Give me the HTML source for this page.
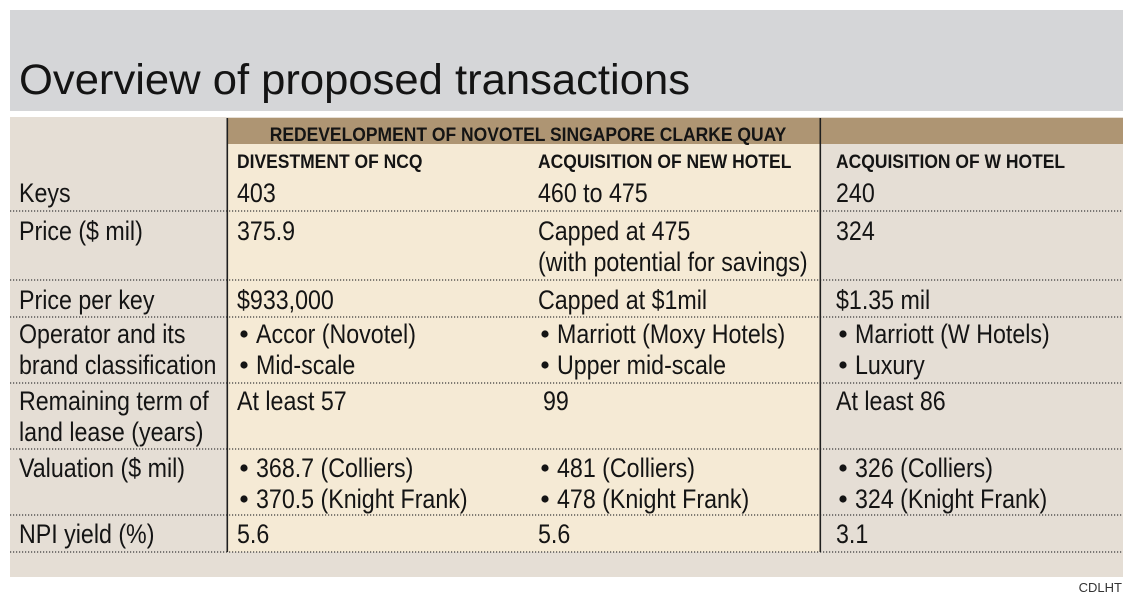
<!DOCTYPE html>
<html><head><meta charset="utf-8"><style>
html,body{margin:0;padding:0;background:#fff;}
svg{display:block;}
text{font-family:"Liberation Sans",sans-serif;fill:#141414;}
.b{font-size:27px;}
.h{font-size:19px;font-weight:bold;}
</style></head><body>
<svg width="1136" height="606" viewBox="0 0 1136 606" xmlns="http://www.w3.org/2000/svg">
<rect x="0" y="0" width="1136" height="606" fill="#fff"/>
<rect x="10" y="10" width="1113" height="101" fill="#d5d6d8"/>
<text x="19" y="94" style="font-size:43px" textLength="671" lengthAdjust="spacingAndGlyphs">Overview of proposed transactions</text>

<rect x="10" y="117" width="1113" height="460" fill="#e5ded5"/>
<rect x="227" y="118" width="593" height="434" fill="#f5ead5"/>
<rect x="227" y="118" width="896" height="26" fill="#ae9573"/>

<g stroke="#3a3a3a" stroke-width="1.2" stroke-dasharray="1.2 1.8">
<line x1="10" y1="211" x2="1123" y2="211"/>
<line x1="10" y1="280" x2="1123" y2="280"/>
<line x1="10" y1="317" x2="1123" y2="317"/>
<line x1="10" y1="383" x2="1123" y2="383"/>
<line x1="10" y1="449" x2="1123" y2="449"/>
<line x1="10" y1="515" x2="1123" y2="515"/>
<line x1="10" y1="552" x2="1123" y2="552"/>
</g>
<rect x="226.5" y="118" width="1.6" height="434" fill="#1e1e1e"/>
<rect x="819.5" y="118" width="1.6" height="434" fill="#1e1e1e"/>

<text class="h" transform="translate(528 141) scale(0.92 1)" text-anchor="middle">REDEVELOPMENT OF NOVOTEL SINGAPORE CLARKE QUAY</text>
<text class="h" transform="translate(237 168) scale(0.92 1)">DIVESTMENT OF NCQ</text>
<text class="h" transform="translate(538 168) scale(0.92 1)">ACQUISITION OF NEW HOTEL</text>
<text class="h" transform="translate(836 168) scale(0.92 1)">ACQUISITION OF W HOTEL</text>

<!-- Keys -->
<text class="b" transform="translate(19 202) scale(0.86 1)">Keys</text>
<text class="b" transform="translate(237 202) scale(0.86 1)">403</text>
<text class="b" transform="translate(538 202) scale(0.86 1)">460 to 475</text>
<text class="b" transform="translate(836 202) scale(0.86 1)">240</text>

<!-- Price -->
<text class="b" transform="translate(19 240) scale(0.86 1)">Price ($ mil)</text>
<text class="b" transform="translate(237 240) scale(0.86 1)">375.9</text>
<text class="b" transform="translate(538 240) scale(0.86 1)">Capped at 475</text>
<text class="b" transform="translate(538 271) scale(0.86 1)">(with potential for savings)</text>
<text class="b" transform="translate(836 240) scale(0.86 1)">324</text>

<!-- Price per key -->
<text class="b" transform="translate(19 309) scale(0.86 1)">Price per key</text>
<text class="b" transform="translate(237 309) scale(0.86 1)">$933,000</text>
<text class="b" transform="translate(538 309) scale(0.86 1)">Capped at $1mil</text>
<text class="b" transform="translate(836 309) scale(0.86 1)">$1.35 mil</text>

<!-- bullets -->
<g fill="#141414">
<circle cx="244" cy="334" r="3.6"/><circle cx="244" cy="365" r="3.6"/>
<circle cx="545" cy="334" r="3.6"/><circle cx="545" cy="365" r="3.6"/>
<circle cx="843" cy="334" r="3.6"/><circle cx="843" cy="365" r="3.6"/>
<circle cx="244" cy="468" r="3.6"/><circle cx="244" cy="499" r="3.6"/>
<circle cx="545" cy="468" r="3.6"/><circle cx="545" cy="499" r="3.6"/>
<circle cx="843" cy="468" r="3.6"/><circle cx="843" cy="499" r="3.6"/>
</g>

<!-- Operator -->
<text class="b" transform="translate(19 343) scale(0.86 1)">Operator and its</text>
<text class="b" transform="translate(19 374) scale(0.86 1)">brand classification</text>
<text class="b" transform="translate(256 343) scale(0.86 1)">Accor (Novotel)</text>
<text class="b" transform="translate(256 374) scale(0.86 1)">Mid-scale</text>
<text class="b" transform="translate(557 343) scale(0.86 1)">Marriott (Moxy Hotels)</text>
<text class="b" transform="translate(557 374) scale(0.86 1)">Upper mid-scale</text>
<text class="b" transform="translate(855 343) scale(0.86 1)">Marriott (W Hotels)</text>
<text class="b" transform="translate(855 374) scale(0.86 1)">Luxury</text>

<!-- Remaining -->
<text class="b" transform="translate(19 410) scale(0.86 1)">Remaining term of</text>
<text class="b" transform="translate(19 441) scale(0.86 1)">land lease (years)</text>
<text class="b" transform="translate(237 410) scale(0.86 1)">At least 57</text>
<text class="b" transform="translate(543 410) scale(0.86 1)">99</text>
<text class="b" transform="translate(836 410) scale(0.86 1)">At least 86</text>

<!-- Valuation -->
<text class="b" transform="translate(19 477) scale(0.86 1)">Valuation ($ mil)</text>
<text class="b" transform="translate(256 477) scale(0.86 1)">368.7 (Colliers)</text>
<text class="b" transform="translate(256 508) scale(0.86 1)">370.5 (Knight Frank)</text>
<text class="b" transform="translate(557 477) scale(0.86 1)">481 (Colliers)</text>
<text class="b" transform="translate(557 508) scale(0.86 1)">478 (Knight Frank)</text>
<text class="b" transform="translate(855 477) scale(0.86 1)">326 (Colliers)</text>
<text class="b" transform="translate(855 508) scale(0.86 1)">324 (Knight Frank)</text>

<!-- NPI -->
<text class="b" transform="translate(19 543) scale(0.86 1)">NPI yield (%)</text>
<text class="b" transform="translate(237 543) scale(0.86 1)">5.6</text>
<text class="b" transform="translate(538 543) scale(0.86 1)">5.6</text>
<text class="b" transform="translate(836 543) scale(0.86 1)">3.1</text>

<text x="1122" y="592" text-anchor="end" style="font-size:13px;fill:#333">CDLHT</text>
</svg>
</body></html>
